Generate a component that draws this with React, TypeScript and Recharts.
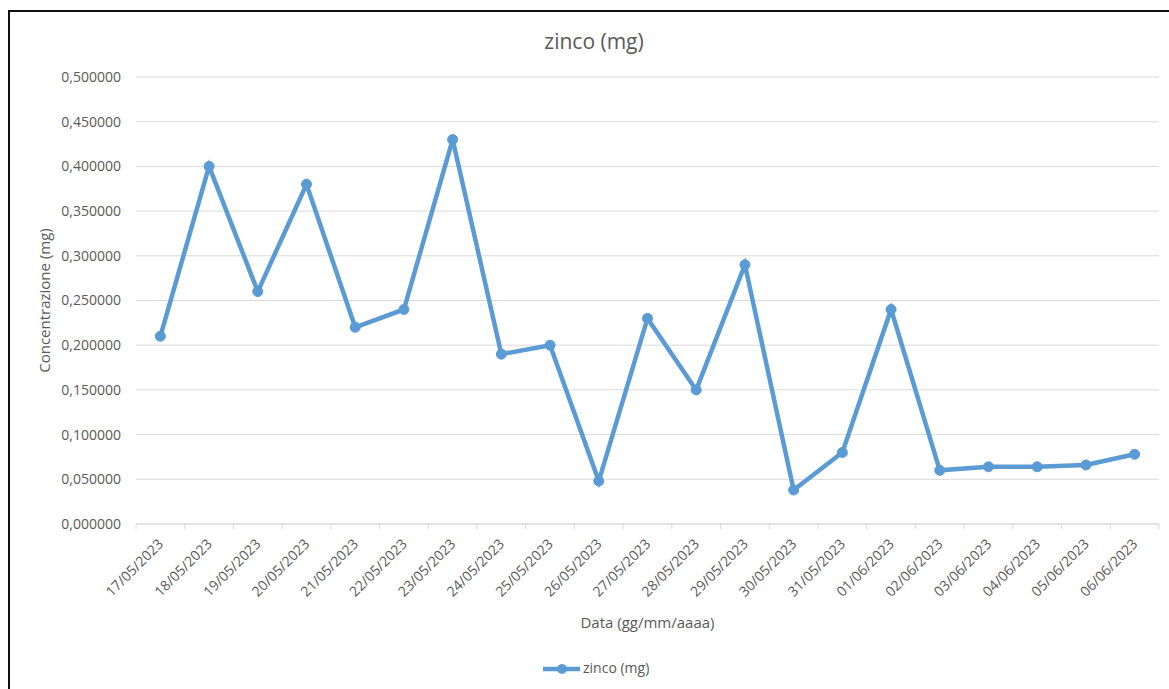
import React from 'react';
import { LineChart, Line, XAxis, YAxis, CartesianGrid, Legend, Label } from 'recharts';

// ─── Data ────────────────────────────────────────────────────────────────────

const dates = [
  '17/05/2023', '18/05/2023', '19/05/2023', '20/05/2023', '21/05/2023',
  '22/05/2023', '23/05/2023', '24/05/2023', '25/05/2023', '26/05/2023',
  '27/05/2023', '28/05/2023', '29/05/2023', '30/05/2023', '31/05/2023',
  '01/06/2023', '02/06/2023', '03/06/2023', '04/06/2023', '05/06/2023',
  '06/06/2023',
];

const zinco = [
  0.21, 0.40, 0.26, 0.38, 0.22,
  0.24, 0.43, 0.19, 0.20, 0.048,
  0.23, 0.15, 0.29, 0.038, 0.08,
  0.24, 0.06, 0.064, 0.064, 0.066,
  0.078,
];

const yTicks = [0, 0.05, 0.1, 0.15, 0.2, 0.25, 0.3, 0.35, 0.4, 0.45, 0.5];

const SERIES_NAME = 'zinco (mg)';

const data = dates.map((d, i) => ({ date: d, value: zinco[i] }));

// ─── Styles ──────────────────────────────────────────────────────────────────

const W = 1169;
const H = 689;
const FONT = '"Open Sans", sans-serif';
const TEXT = '#595959';
const GRID = '#d9d9d9';
const BLUE = '#5b9bd5';
const BAND = (W - 136 - 10) / dates.length;

const fmtY = (v: number) => v.toFixed(6).replace('.', ',');

// ─── Rotated date tick with Excel-style boundary tick marks ─────────────────

function DateTick(props: any) {
  const { x, y, payload, index, visibleTicksCount } = props;
  const half = BAND / 2;
  return (
    <g>
      <line x1={x - half} y1={y} x2={x - half} y2={y + 5} stroke={GRID} strokeWidth={1} />
      {index === visibleTicksCount - 1 && (
        <line x1={x + half} y1={y} x2={x + half} y2={y + 5} stroke={GRID} strokeWidth={1} />
      )}
      <g transform={`translate(${x},${y + 17}) rotate(-45)`}>
        <text textAnchor="end" dominantBaseline="central" fill={TEXT} fontSize={14} fontFamily={FONT}>
          {payload.value}
        </text>
      </g>
    </g>
  );
}

function LegendBox() {
  return (
    <div style={{ position: 'relative', height: 30, fontFamily: FONT, fontSize: 14, color: TEXT }}>
      <svg width={40} height={14} style={{ position: 'absolute', left: 542, top: 8 }}>
        <line x1={1} y1={7} x2={38} y2={7} stroke={BLUE} strokeWidth={4.5} />
        <circle cx={20} cy={7} r={5} fill={BLUE} />
      </svg>
      <span style={{ position: 'absolute', left: 583, top: 4, lineHeight: '20px' }}>{SERIES_NAME}</span>
    </div>
  );
}

export default function App() {
  return (
    <div style={{ position: 'fixed', left: 0, top: 0, width: W, height: H, background: '#fff', overflow: 'hidden' }}>
      <div
        style={{
          position: 'absolute', left: 8, top: 10, width: 1200, height: 700,
          borderLeft: '2px solid #111', borderTop: '2px solid #111',
        }}
      />
      <div
        style={{
          position: 'absolute', left: 494, top: 26, width: 200, textAlign: 'center',
          fontFamily: FONT, fontSize: 21, color: TEXT, lineHeight: '30px',
        }}
      >
        {SERIES_NAME}
      </div>
      <div style={{ position: 'absolute', left: 0, top: 0 }}>
        <LineChart width={W} height={H} data={data} margin={{ top: 77, right: 10, left: 0, bottom: 5 }}>
          <CartesianGrid vertical={false} stroke={GRID} strokeWidth={1} />
          <XAxis
            dataKey="date"
            scale="band"
            height={130}
            interval={0}
            tickLine={false}
            tickSize={0}
            tickMargin={0}
            axisLine={{ stroke: GRID, strokeWidth: 1 }}
            tick={<DateTick />}
          >
            <Label
              content={({ viewBox }: any) => (
                <text
                  x={viewBox.x + viewBox.width / 2}
                  y={viewBox.y + 98}
                  textAnchor="middle"
                  dominantBaseline="central"
                  fill={TEXT}
                  fontSize={15}
                  fontFamily={FONT}
                >
                  Data (gg/mm/aaaa)
                </text>
              )}
            />
          </XAxis>
          <YAxis
            width={136}
            domain={[0, 0.5]}
            ticks={yTicks}
            tickFormatter={fmtY}
            axisLine={false}
            tickLine={false}
            tickSize={6}
            tickMargin={9}
            tick={{ fill: TEXT, fontSize: 14, fontFamily: FONT }}
          >
            <Label
              content={({ viewBox }: any) => {
                const cx = viewBox.x + 44;
                const cy = viewBox.y + viewBox.height / 2;
                return (
                  <text
                    x={cx}
                    y={cy}
                    transform={`rotate(-90, ${cx}, ${cy})`}
                    textAnchor="middle"
                    dominantBaseline="central"
                    fill={TEXT}
                    fontSize={15}
                    fontFamily={FONT}
                  >
                    Concentrazione (mg)
                  </text>
                );
              }}
            />
          </YAxis>
          <Legend verticalAlign="bottom" content={() => <LegendBox />} wrapperStyle={{ left: 0, width: W }} />
          <Line
            type="linear"
            dataKey="value"
            name={SERIES_NAME}
            stroke={BLUE}
            strokeWidth={4.5}
            dot={{ r: 5, fill: BLUE, stroke: BLUE, strokeWidth: 1 }}
            activeDot={false}
            isAnimationActive={false}
          />
        </LineChart>
      </div>
    </div>
  );
}
